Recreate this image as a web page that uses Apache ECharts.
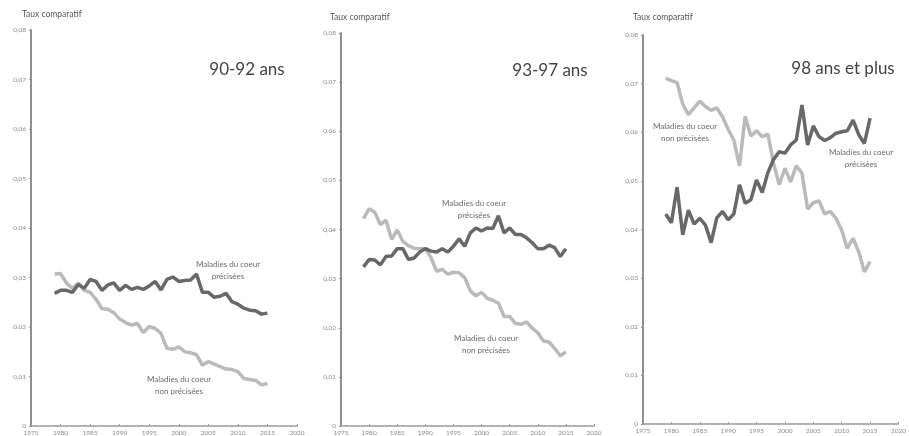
<!DOCTYPE html>
<html>
<head>
<meta charset="utf-8">
<script src="https://cdn.jsdelivr.net/npm/echarts@6/dist/echarts.min.js"></script>
<style>
  html, body { margin: 0; padding: 0; background: #fff; }
  #chart { width: 909px; height: 436px; }
</style>
</head>
<body>
<div id="chart"></div>
<script>
// years shared by the three panels
const years = [1979, 1980, 1981, 1982, 1983, 1984, 1985, 1986, 1987, 1988, 1989,
  1990, 1991, 1992, 1993, 1994, 1995, 1996, 1997, 1998, 1999,
  2000, 2001, 2002, 2003, 2004, 2005, 2006, 2007, 2008, 2009,
  2010, 2011, 2012, 2013, 2014, 2015];

const panelTitles = ['90-92 ans', '93-97 ans', '98 ans et plus'];
const yTicksMax = 0.08;

// 90-92 ans
const precisees9092 = [0.0268, 0.0274, 0.0274, 0.0270, 0.0286, 0.0278, 0.0296, 0.0292, 0.0274, 0.0285, 0.0289,
  0.0274, 0.0284, 0.0276, 0.0280, 0.0276, 0.0283, 0.0292, 0.0275, 0.0296, 0.0301,
  0.0292, 0.0294, 0.0295, 0.0307, 0.0270, 0.0270, 0.0260, 0.0262, 0.0268, 0.0251,
  0.0246, 0.0238, 0.0234, 0.0233, 0.0226, 0.0228];
const nonPrecisees9092 = [0.0307, 0.0308, 0.0289, 0.0278, 0.0289, 0.0274, 0.0270, 0.0256, 0.0237, 0.0236, 0.0229,
  0.0216, 0.0209, 0.0204, 0.0207, 0.0189, 0.0201, 0.0197, 0.0187, 0.0157, 0.0155,
  0.0160, 0.0150, 0.0148, 0.0144, 0.0123, 0.0130, 0.0125, 0.0120, 0.0115, 0.0114,
  0.0110, 0.0096, 0.0094, 0.0092, 0.0083, 0.0086];

// 93-97 ans
const precisees9397 = [0.0324, 0.0339, 0.0338, 0.0328, 0.0345, 0.0346, 0.0361, 0.0361, 0.0339, 0.0342, 0.0354,
  0.0361, 0.0356, 0.0354, 0.0361, 0.0354, 0.0366, 0.0381, 0.0366, 0.0393, 0.0403,
  0.0397, 0.0403, 0.0402, 0.0428, 0.0393, 0.0403, 0.0390, 0.0390, 0.0383, 0.0373,
  0.0361, 0.0361, 0.0368, 0.0363, 0.0345, 0.0361];
const nonPrecisees9397 = [0.0422, 0.0442, 0.0435, 0.0410, 0.0419, 0.0380, 0.0399, 0.0376, 0.0367, 0.0362, 0.0361,
  0.0361, 0.0343, 0.0315, 0.0319, 0.0309, 0.0313, 0.0312, 0.0302, 0.0275, 0.0265,
  0.0272, 0.0260, 0.0256, 0.0250, 0.0223, 0.0223, 0.0209, 0.0207, 0.0212, 0.0199,
  0.0190, 0.0173, 0.0171, 0.0158, 0.0143, 0.0151];

// 98 ans et plus
const precisees98 = [0.0432, 0.0414, 0.0487, 0.0389, 0.0440, 0.0411, 0.0423, 0.0409, 0.0373, 0.0424, 0.0437,
  0.0420, 0.0432, 0.0492, 0.0454, 0.0461, 0.0502, 0.0476, 0.0517, 0.0544, 0.0560,
  0.0557, 0.0574, 0.0584, 0.0656, 0.0574, 0.0613, 0.0591, 0.0583, 0.0589, 0.0598,
  0.0601, 0.0603, 0.0625, 0.0595, 0.0577, 0.0629];
const nonPrecisees98 = [0.0711, 0.0706, 0.0702, 0.0658, 0.0636, 0.0650, 0.0664, 0.0653, 0.0645, 0.0650, 0.0632,
  0.0606, 0.0584, 0.0531, 0.0633, 0.0592, 0.0603, 0.0591, 0.0596, 0.0536, 0.0492,
  0.0526, 0.0498, 0.0531, 0.0516, 0.0442, 0.0455, 0.0459, 0.0432, 0.0437, 0.0423,
  0.0399, 0.0361, 0.0382, 0.0354, 0.0313, 0.0334];

const panels = [
  { precisees: precisees9092, nonPrecisees: nonPrecisees9092 },
  { precisees: precisees9397, nonPrecisees: nonPrecisees9397 },
  { precisees: precisees98, nonPrecisees: nonPrecisees98 }
];

const FONT = 'Lato, "Open Sans", sans-serif';
const darkLine = '#686868';
const lightLine = '#bababa';

const grids = [
  { left: 31, top: 30, width: 266, height: 396 },
  { left: 341, top: 33, width: 253, height: 394 },
  { left: 643, top: 35, width: 261, height: 389 }
];

const pairs = arr => years.map((y, i) => [y, arr[i]]);

const option = {
  animation: false,
  backgroundColor: '#fff',
  grid: grids.map(g => ({ ...g, containLabel: false })),
  xAxis: grids.map((g, i) => ({
    type: 'value',
    gridIndex: i,
    min: 1975,
    max: 2020,
    interval: 5,
    splitLine: { show: false },
    axisLine: { lineStyle: { color: '#9a9a9a', width: 1.5 } },
    axisTick: { show: true, inside: true, length: 2, lineStyle: { color: '#9a9a9a' } },
    axisLabel: { fontFamily: FONT, fontSize: 6.5, color: '#8a8a8a', margin: 3, formatter: v => String(v) }
  })),
  yAxis: grids.map((g, i) => ({
    type: 'value',
    gridIndex: i,
    min: 0,
    max: yTicksMax,
    interval: 0.01,
    splitLine: { show: false },
    axisLine: { show: true, lineStyle: { color: '#8f8f8f', width: 2 } },
    axisTick: { show: true, length: 2, lineStyle: { color: '#8f8f8f' } },
    axisLabel: {
      fontFamily: FONT, fontSize: 6.5, color: '#8a8a8a', margin: 5,
      formatter: v => v === 0 ? '0' : v.toFixed(2).replace('.', ',')
    }
  })),
  series: [],
  graphic: []
};

panels.forEach((p, i) => {
  option.series.push({
    type: 'line', xAxisIndex: i, yAxisIndex: i,
    name: 'Maladies du coeur non précisées',
    data: pairs(p.nonPrecisees),
    showSymbol: false,
    lineStyle: { color: lightLine, width: 3.5 }
  });
  option.series.push({
    type: 'line', xAxisIndex: i, yAxisIndex: i,
    name: 'Maladies du coeur précisées',
    data: pairs(p.precisees),
    showSymbol: false,
    lineStyle: { color: darkLine, width: 3.5 }
  });
});

// axis titles and panel titles
const axisTitlePos = [[22, 16], [330, 19], [633, 19]];
const titlePos = [[247, 70], [550, 71], [843, 69]];
axisTitlePos.forEach(([x, y]) => {
  option.graphic.push({
    type: 'text', left: x, top: y - 6,
    style: { text: 'Taux comparatif', font: '8.5px ' + FONT, fill: '#555' }
  });
});
titlePos.forEach(([x, y], i) => {
  option.graphic.push({
    type: 'text', x: x, y: y,
    style: { text: panelTitles[i], font: '17px ' + FONT, fill: '#444', align: 'center', verticalAlign: 'middle' }
  });
});

// labels of the curves
const curveLabels = [
  ['Maladies du coeur\nprécisées', 228, 270],
  ['Maladies du coeur\nnon précisées', 179, 385],
  ['Maladies du coeur\nprécisées', 474, 209],
  ['Maladies du coeur\nnon précisées', 486, 344],
  ['Maladies du coeur\nnon précisées', 685, 132],
  ['Maladies du coeur\nprécisées', 861, 158]
];
curveLabels.forEach(([t, x, y]) => {
  option.graphic.push({
    type: 'text', x: x, y: y,
    style: { text: t, font: '8px ' + FONT, fill: '#6a6a6a', align: 'center', verticalAlign: 'middle', lineHeight: 12 }
  });
});

const chart = echarts.init(document.getElementById('chart'));
chart.setOption(option);
</script>
</body>
</html>
